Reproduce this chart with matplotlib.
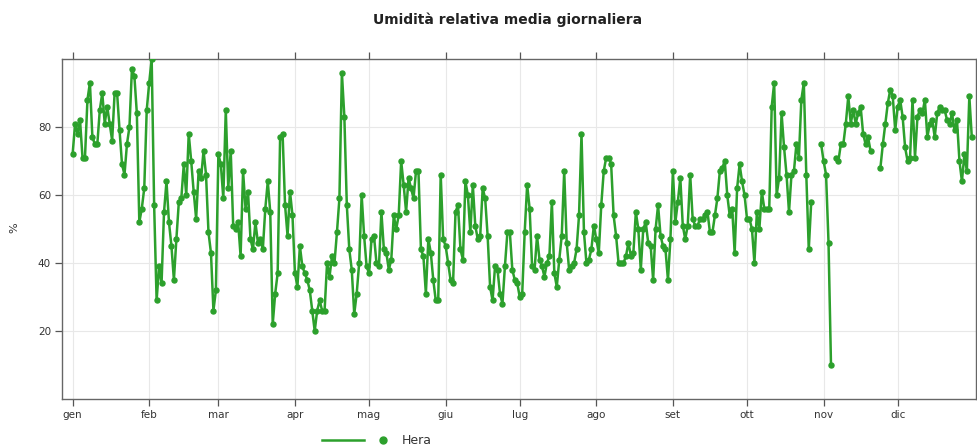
import numpy as np
import pandas as pd
import matplotlib
matplotlib.use("Agg")
import matplotlib.pyplot as plt
from matplotlib.lines import Line2D

nan = np.nan

# daily mean relative humidity (%), one list per month
gen = [72, 81, 78, 82, 71, 71, 88, 93, 77, 75, 75, 85, 90, 81, 86, 81, 76, 90, 90, 79,
       69, 66, 75, 80, 97, 95, 84, 52, 56, 62, 85]
feb = [93, 100, 57, 29, 39, 34, 55, 64, 52, 45, 35, 47, 58, 59, 69, 60, 78, 70, 61, 53,
       67, 65, 73, 66, 49, 43, 26, 32]
mar = [72, 69, 59, 85, 62, 73, 51, 50, 52, 42, 67, 56, 61, 47, 44, 52, 46, 47, 44, 56,
       64, 55, 22, 31, 37, 77, 78, 57, 48, 61, 54]
apr = [37, 33, 45, 39, 37, 35, 32, 26, 20, 26, 29, 26, 26, 40, 36, 42, 40, 49, 59, 96,
       83, 57, 44, 38, 25, 31, 40, 60, 48, 39]
mag = [37, 47, 48, 40, 39, 55, 44, 43, 38, 41, 54, 50, 54, 70, 63, 55, 65, 62, 59, 67,
       67, 44, 42, 31, 47, 43, 35, 29, 29, 66, 47]
giu = [45, 40, 35, 34, 55, 57, 44, 41, 64, 60, 49, 63, 51, 47, 48, 62, 59, 48, 33, 29,
       39, 38, 31, 28, 39, 49, 49, 38, 35, 34]
lug = [30, 31, 49, 63, 56, 39, 38, 48, 41, 39, 36, 40, 42, 58, 37, 33, 41, 48, 67, 46,
       38, 39, 40, 44, 54, 78, 49, 40, 41, 44, 51]
ago = [47, 43, 57, 67, 71, 71, 69, 54, 48, 40, 40, 40, 42, 46, 42, 43, 55, 50, 38, 50,
       52, 46, 45, 35, 50, 57, 48, 45, 44, 35, 47]
set_ = [67, 52, 58, 65, 51, 47, 51, 66, 53, 51, 51, 53, 53, 54, 55, 49, 49, 54, 59, 67,
        68, 70, 60, 54, 56, 43, 62, 69, 64, 60]
ott = [53, 53, 50, 40, 55, 50, 61, 56, 56, 56, 86, 93, 60, 65, 84, 74, 66, 55, 66, 67,
       75, 71, 88, 93, 66, 44, 58, nan, nan, nan, 75]
nov = [70, 66, 46, 10, nan, 71, 70, 75, 75, 81, 89, 81, 85, 81, 84, 86, 78, 75, 77, 73,
       nan, nan, nan, 68, 75, 81, 87, 91, 89, 79]
dic = [86, 88, 83, 74, 70, 71, 88, 71, 83, 85, 84, 88, 77, 81, 82, 77, 84, 86, 85, 85,
       82, 81, 84, 79, 82, 70, 64, 72, 67, 89, 77]

hera = gen + feb + mar + apr + mag + giu + lug + ago + set_ + ott + nov + dic
mesi = ["gen", "feb", "mar", "apr", "mag", "giu", "lug", "ago", "set", "ott", "nov", "dic"]
y_ticks = [20, 40, 60, 80]

giorni = pd.date_range("2023-01-01", periods=len(hera), freq="D")
inizio_mese = pd.date_range("2023-01-01", periods=12, freq="MS")

verde = "#2ca02c"
W, H = 978, 448
fig = plt.figure(figsize=(W / 100, H / 100), dpi=100)
ax = fig.add_axes([62 / W, 1 - 399 / H, (976 - 62) / W, (399 - 59) / H])

ax.plot(giorni, hera, color=verde, lw=1.8, marker="o", ms=3.6, zorder=3)

ax.set_ylim(0, 100)
ax.set_yticks(y_ticks)
ax.set_xticks(inizio_mese)
ax.set_xticklabels(mesi)
ax.set_xlim(giorni[0] - pd.Timedelta(days=4.3), giorni[0] + pd.Timedelta(days=365.7))

ax.grid(True, color="#e8e8e8", lw=0.8, zorder=0)
ax.tick_params(direction="out", top=True, right=True, length=5, width=0.9,
               color="#555555", labelsize=7.5, labelcolor="#333333", pad=3)
for sp in ax.spines.values():
    sp.set_color("#666666")
    sp.set_linewidth(1.0)

fig.text(14 / W, 1 - 228 / H, "%", rotation=90, ha="center", va="center",
         fontsize=8, color="#333333")
fig.text(508 / W, 1 - 20 / H, "Umidità relativa media giornaliera", ha="center",
         va="center", fontsize=10, fontweight="bold", color="#222222")

# legend drawn in figure coordinates
y_leg = 1 - 440 / H
fig.add_artist(Line2D([322 / W, 364 / W], [y_leg, y_leg], color=verde, lw=1.8))
fig.add_artist(Line2D([383 / W], [y_leg], color=verde, marker="o", ms=5, lw=0))
fig.text(402 / W, y_leg, "Hera", ha="left", va="center", fontsize=9, color="#333333")

fig.savefig("out.png", dpi=100)
